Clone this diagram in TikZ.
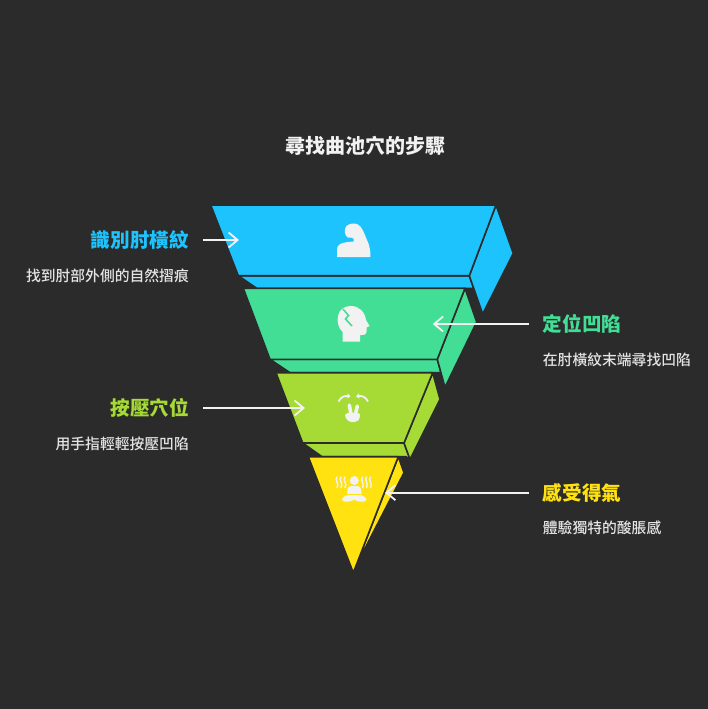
\documentclass[tikz,border=0pt]{standalone}
\usepackage{fontspec}
\newfontfamily\cjk{Noto Sans CJK TC}
\newfontfamily\cjkm{Noto Sans CJK TC Medium}
\usetikzlibrary{arrows.meta}
\definecolor{bg}{HTML}{2B2B2B}
\definecolor{sky}{HTML}{1DC3FD}
\definecolor{mint}{HTML}{43DE96}
\definecolor{lime}{HTML}{A5DB34}
\definecolor{gold}{HTML}{FFE20F}
\definecolor{ink}{HTML}{F2F2F2}
\definecolor{notegray}{HTML}{E4E4E4}

\begin{document}
\begin{tikzpicture}[x=1pt,y=-1pt,
	face/.style={fill=#1, draw=bg, line width=1.6pt, line join=round},
	steptitle/.style={font=\cjk\bfseries\fontsize{19.6pt}{22pt}\selectfont, text=#1, inner sep=0pt},
	stepnote/.style={font=\cjkm\fontsize{14.8pt}{17pt}\selectfont, text=notegray, inner sep=0pt},
	pointer/.style={draw=ink, line width=1.8pt, -{Straight Barb[length=9pt,width=15pt]}, shorten <=14pt},
	wave/.style={draw=ink, line width=1.5pt, line cap=round}]

\useasboundingbox (0,0) rectangle (708,709);
\fill[bg] (0,0) rectangle (708,709);

\node[font=\cjk\bfseries\fontsize{20pt}{22pt}\selectfont, text=ink] (title) at (365,146) {尋找曲池穴的步驟};

% blue
\draw[face=sky] (238.3,275.7) -- (257,288.5) -- (476,288.5) -- (482.7,314) -- (469.3,275.7) -- cycle;
\draw[face=sky] (496,205) -- (513.3,253.3) -- (482.7,314) -- (469.3,275.7) -- cycle;
\draw[face=sky] (210.7,205) -- (496,205) -- (469.3,275.7) -- (238.3,275.7) -- cycle;

% green
\draw[face=mint] (270,359.3) -- (290,372.7) -- (440,372.7) -- (445,387.3) -- (437.3,359.3) -- cycle;
\draw[face=mint] (465,288.3) -- (476.7,322) -- (445,387.3) -- (437.3,359.3) -- cycle;
\draw[face=mint] (243.3,288.3) -- (465,288.3) -- (437.3,359.3) -- (270,359.3) -- cycle;

% lime
\draw[face=lime] (302.7,443) -- (322,456.7) -- (406,456.7) -- (410,459.3) -- (404,443) -- cycle;
\draw[face=lime] (432.7,372.7) -- (440,399.3) -- (410,459.3) -- (404,443) -- cycle;
\draw[face=lime] (276,372.7) -- (432.7,372.7) -- (404,443) -- (302.7,443) -- cycle;

% yellow
\draw[face=gold] (398.3,456.7) -- (404,472.7) -- (361,556) -- (358.6,559) -- cycle;
\draw[face=gold] (308.3,456.7) -- (398.3,456.7) -- (353.3,572.7) -- cycle;

% icons
\fill[ink] (337,257) -- (337,249) .. controls (337,244.5) and (342,242.5) .. (348,242) -- (353.5,241.5)
	.. controls (355,239.5) and (353.5,237.5) .. (351,237.5) -- (348,237.5)
	.. controls (344.5,236) and (343.5,229) .. (346.5,226) .. controls (349,223.5) and (354,223) .. (357,224)
	.. controls (362,226) and (364,233) .. (367,240) .. controls (370,246) and (370.5,252) .. (370.5,257) -- cycle;

\fill[ink] (342.7,341.7) -- (342.7,332) .. controls (338,328) and (337,321) .. (338,316)
	.. controls (339,309) and (345,306) .. (351,306) .. controls (359,306) and (365,312) .. (366,320)
	-- (369.5,326) -- (366.5,327.5) -- (366.5,332) .. controls (366.5,334.5) and (364.5,335) .. (362,335)
	-- (360,335) -- (360,341.7) -- cycle;
\draw[mint, line width=1.6pt] (343,309) -- (348.5,315.5) -- (345.5,319) -- (352,326);

\fill[ink, rounded corners=2pt] (345.5,413) -- (360,413) -- (360,418.5) -- (356.5,422) -- (349,422) -- (344.5,416.5) -- cycle;
\draw[ink, line width=3.6pt, line cap=round] (351,414) -- (349.3,405) (355.5,414) -- (357.3,406);
\draw[ink, line width=1.8pt, -{Stealth[length=3.5pt,width=5.5pt]}] (338.5,401.5) .. controls (341,396.5) and (345,395.5) .. (350.5,396.5);
\draw[ink, line width=1.8pt, -{Stealth[length=3.5pt,width=5.5pt]}] (368,401.5) .. controls (365.5,396.5) and (361.5,395.5) .. (356,396.5);

\fill[ink] (354.3,480.5) circle (4.5pt);
\fill[ink, rounded corners=3pt] (348,486) -- (360.5,486) -- (362,497) -- (346.5,497) -- cycle;
\fill[ink, rotate around={14:(349.5,498)}] (349.5,498) ellipse (7.5pt and 3.4pt);
\fill[ink, rotate around={-14:(359,498)}] (359,498) ellipse (7.5pt and 3.4pt);
\draw[gold, line width=1pt] (345,494.2) -- (363,494.2);
\foreach \x in {337,341,345,362.5,366.5,370.5}{
	\draw[wave] (\x,477) .. controls (\x-3,480) and (\x+3,484) .. (\x,487.5);
}

% labels
\foreach [count=\i] \y/\c/\h/\d in {240/sky/識別肘橫紋/找到肘部外側的自然摺痕,408/lime/按壓穴位/用手指輕輕按壓凹陷}{
	\node[steptitle=\c, anchor=east] (L\i) at (189,\y) {\h};
	\node[stepnote, anchor=east] (Ln\i) at (189,\y+36) {\d};
}
\foreach [count=\i] \y/\c/\h/\d in {324/mint/定位凹陷/在肘橫紋末端尋找凹陷,492.7/gold/感受得氣/體驗獨特的酸脹感}{
	\node[steptitle=\c, anchor=west] (R\i) at (542.7,\y) {\h};
	\node[stepnote, anchor=west] (Rn\i) at (542.7,\y+35.5) {\d};
}

\coordinate (a1) at (239,240);
\coordinate (a2) at (432.7,324);
\coordinate (a3) at (305,408);
\coordinate (a4) at (385,492.7);

\foreach \u \v in {
L1/a1%
,R1/a2%
,L2/a3%
,R2/a4%
}{
	\draw[pointer] (\u) -- (\v);
}

\end{tikzpicture}
\end{document}
